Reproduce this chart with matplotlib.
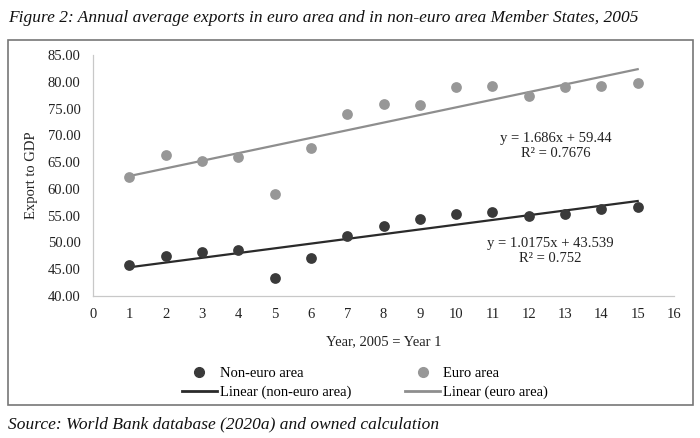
import matplotlib.pyplot as plt
from matplotlib.patches import Rectangle
from matplotlib.lines import Line2D
import numpy as np

plt.rcParams['font.family'] = ['Liberation Serif', 'DejaVu Serif']

# Data
years = list(range(1, 16))
non_euro = [45.8, 47.5, 48.2, 48.5, 43.3, 47.1, 51.2, 53.0, 54.3, 55.3, 55.6, 55.0, 55.4, 56.3, 56.7]
euro = [62.2, 66.3, 65.3, 66.0, 59.1, 67.7, 73.9, 75.9, 75.6, 79.0, 79.3, 77.3, 79.0, 79.3, 79.7]

# Trend line equations as printed in the chart
non_euro_eq = 'y = 1.0175x + 43.539\nR² = 0.752'
euro_eq = 'y = 1.686x + 59.44\nR² = 0.7676'

dark = '#3a3a3a'
light = '#979797'

fig = plt.figure(figsize=(7, 4.38), dpi=100)
ax = fig.add_axes([93 / 700, 1 - 296 / 438, (674 - 93) / 700, (296 - 55) / 438])

# linear trend lines (least squares over the plotted points)
x_line = np.array([years[0], years[-1]])
for vals, c in [(non_euro, '#2a2a2a'), (euro, '#8e8e8e')]:
    k, b = np.polyfit(years, vals, 1)
    ax.plot(x_line, k * x_line + b, color=c, lw=1.6, zorder=3)

ax.scatter(years, non_euro, s=60, color=dark, zorder=4, linewidths=0)
ax.scatter(years, euro, s=60, color=light, zorder=4, linewidths=0)

ax.text(12.75, 68.0, euro_eq, ha='center', va='center',
        fontsize=10.5, color='#222222', linespacing=1.15)
ax.text(12.6, 48.4, non_euro_eq, ha='center', va='center',
        fontsize=10.5, color='#222222', linespacing=1.15)

ax.set_xlim(0, 16)
ax.set_ylim(40, 85)
ax.set_xticks(range(0, 17))
ax.set_yticks(np.arange(40, 86, 5))
ax.set_yticklabels(['%.2f' % v for v in np.arange(40, 86, 5)])
ax.tick_params(length=0, labelsize=10.5, colors='#222222', pad=9)
ax.tick_params(axis='x', pad=9)
for s in ['top', 'right']:
    ax.spines[s].set_visible(False)
for s in ['left', 'bottom']:
    ax.spines[s].set_color('#c8c8c8')
    ax.spines[s].set_linewidth(0.9)

ax.set_xlabel('Year, 2005 = Year 1', fontsize=10.5, color='#222222', labelpad=10)
ax.set_ylabel('Export to GDP', fontsize=10.5, color='#222222', labelpad=7)

handles = [
    Line2D([], [], marker='o', ls='none', color=dark, markersize=7),
    Line2D([], [], color='#2a2a2a', lw=2),
    Line2D([], [], marker='o', ls='none', color=light, markersize=7),
    Line2D([], [], color='#8e8e8e', lw=2),
]
labels = ['Non-euro area', 'Linear (non-euro area)', 'Euro area', 'Linear (euro area)']
fig.legend(handles, labels, ncol=2, loc='center', bbox_to_anchor=(365 / 700, 1 - 383 / 438),
           frameon=False, fontsize=10.5, handlelength=2.4, handletextpad=0.2,
           columnspacing=3.7, labelspacing=0.4)

# outer frame
fig.patches.append(Rectangle((8 / 700, 1 - 405 / 438), (693 - 8) / 700, (405 - 40) / 438,
                             transform=fig.transFigure, fill=False, edgecolor='#777777', lw=1.2))

fig.text(8 / 700, 1 - 18 / 438, 'Figure 2: Annual average exports in euro area and in non-euro area Member States, 2005',
         fontsize=12.5, style='italic', va='center', ha='left', color='#111111')
fig.text(8 / 700, 1 - 424 / 438, 'Source: World Bank database (2020a) and owned calculation',
         fontsize=12.5, style='italic', va='center', ha='left', color='#111111')

fig.savefig('out.png', dpi=100)
